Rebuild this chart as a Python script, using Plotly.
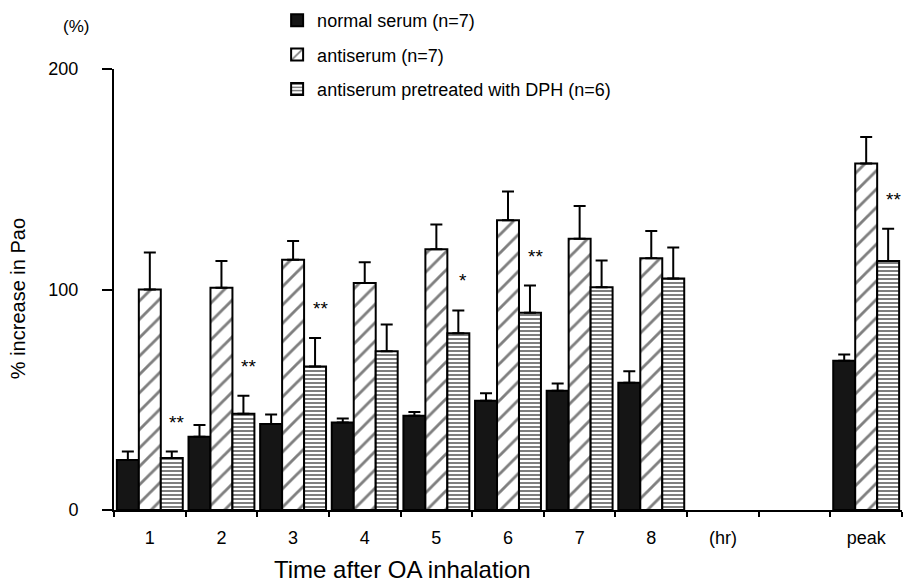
import plotly.graph_objects as go

categories = ["1", "2", "3", "4", "5", "6", "7", "8", "(hr)", " ", "peak"]
normal = [22.7, 33.2, 39.0, 39.7, 42.7, 49.5, 54.1, 57.7, None, None, 67.7]
normal_err = [3.8, 5.4, 4.3, 1.8, 1.8, 3.4, 3.3, 5.2, None, None, 2.8]
anti = [100.0, 100.8, 113.5, 102.9, 118.2, 131.4, 123.0, 114.2, None, None, 157.1]
anti_err = [16.8, 12.1, 8.5, 9.5, 11.3, 13.1, 14.9, 12.3, None, None, 12.1]
dph = [23.6, 43.6, 65.1, 72.0, 80.2, 89.5, 101.0, 105.0, None, None, 112.9]
dph_err = [2.9, 8.2, 12.9, 12.1, 10.3, 12.3, 12.2, 14.0, None, None, 14.7]
significance = ["**", "**", "**", "", "*", "**", "", "", "", "", "**"]

names = ["normal serum (n=7)", "antiserum (n=7)", "antiserum pretreated with DPH (n=6)"]
y_ticks = [0, 100, 200]

FONT = "Liberation Sans, Arial, Helvetica, sans-serif"

def err(arr):
    return dict(type="data", array=arr, arrayminus=[0 if v is not None else None for v in arr],
                symmetric=False, color="black", thickness=2, width=6)

fig = go.Figure()
fig.add_trace(go.Bar(
    x=categories, y=normal, name=names[0], legendgroup="a",
    marker=dict(color="#151515", line=dict(color="black", width=2)),
    error_y=err(normal_err),
))
fig.add_trace(go.Bar(
    x=categories, y=anti, name=names[1], legendgroup="b",
    marker=dict(color="white", line=dict(color="black", width=2),
                pattern=dict(shape="/", fgcolor="black", bgcolor="white", size=13, solidity=0.22)),
    error_y=err(anti_err),
))
fig.add_trace(go.Bar(
    x=categories, y=dph, name=names[2], legendgroup="c",
    marker=dict(color="white", line=dict(color="black", width=2),
                pattern=dict(shape="-", fgcolor="black", bgcolor="white", size=4, solidity=0.5)),
    error_y=err(dph_err),
))

annotations = []
for i, (v, e, s) in enumerate(zip(dph, dph_err, significance)):
    if s:
        annotations.append(dict(x=i, y=v + e, text=s, showarrow=False, xref="x", yref="y",
                                xshift=27, yshift=17, xanchor="center", yanchor="bottom",
                                font=dict(size=19, color="black", family=FONT)))

annotations.append(dict(x=-0.048, y=1.097, xref="paper", yref="paper", text="(%)", showarrow=False,
                        xanchor="center", yanchor="middle",
                        font=dict(size=17, color="black", family=FONT)))
annotations.append(dict(x=-0.122, y=0.48, xref="paper", yref="paper", text="% increase in Pao",
                        textangle=-90, showarrow=False, xanchor="center", yanchor="middle",
                        font=dict(size=20, color="black", family=FONT)))
annotations.append(dict(x=0.366, y=-0.134, xref="paper", yref="paper", text="Time after OA inhalation",
                        showarrow=False, xanchor="center", yanchor="middle",
                        font=dict(size=24, color="black", family=FONT)))

fig.update_layout(
    width=906, height=583,
    margin=dict(l=114, r=4, t=69, b=73, autoexpand=False),
    paper_bgcolor="white", plot_bgcolor="white",
    barmode="group", bargap=0.08, bargroupgap=0,
    font=dict(family=FONT, size=18, color="black"),
    showlegend=True,
    legend=dict(x=0.207, y=1.152, xanchor="left", yanchor="top", tracegroupgap=8,
                font=dict(size=18, color="black", family=FONT), bgcolor="rgba(0,0,0,0)"),
    annotations=annotations,
)
fig.update_xaxes(
    type="category", categoryorder="array", categoryarray=categories,
    range=[-0.5, 10.5], showline=True, linecolor="black", linewidth=2,
    ticks="outside", tickson="boundaries", ticklen=5, tickwidth=2, tickcolor="black",
    ticklabelstandoff=10, showgrid=False, zeroline=False,
    tickfont=dict(size=18, color="black", family=FONT),
)
fig.update_yaxes(
    range=[0, 200], tickvals=y_ticks, showline=True, linecolor="black", linewidth=2,
    ticks="outside", ticklen=10, tickwidth=2, tickcolor="black", ticklabelstandoff=20,
    showgrid=False, zeroline=False, tickfont=dict(size=18, color="black", family=FONT),
)

fig.write_html("out.html", config={"displayModeBar": False},
               post_script="document.body.style.margin='0';")
